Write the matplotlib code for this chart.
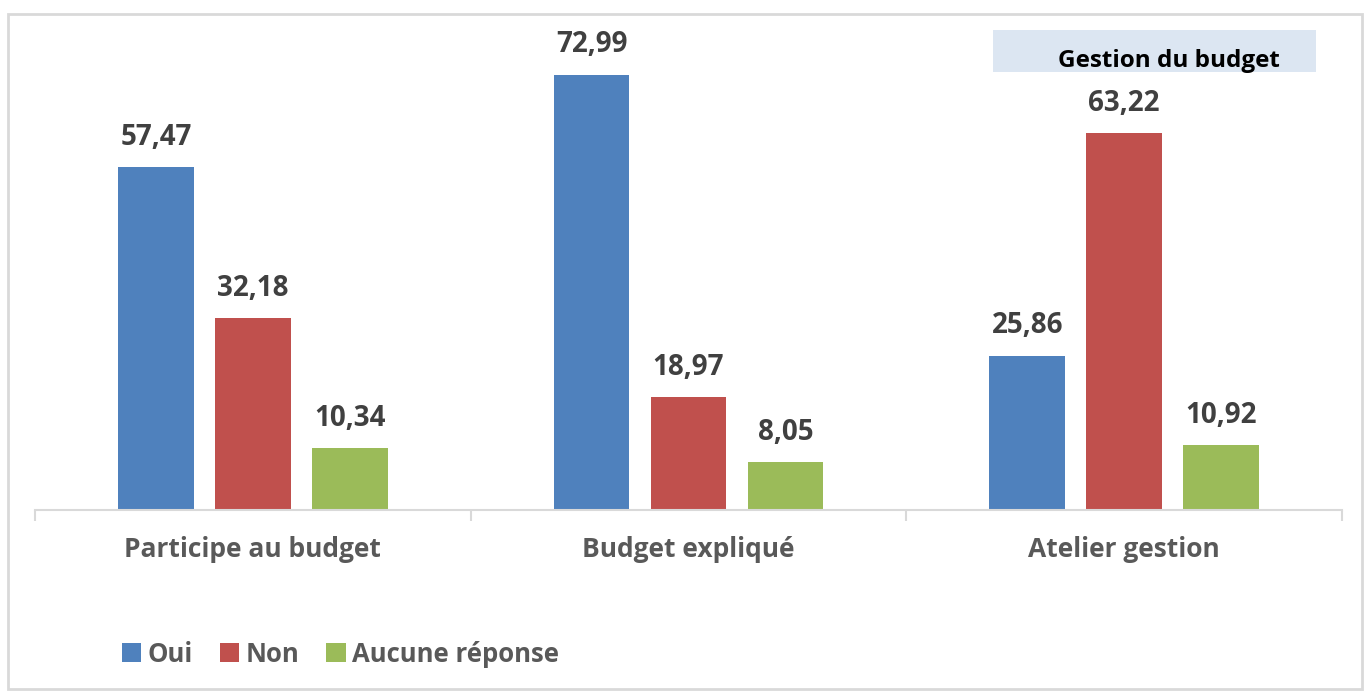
import numpy as np
import matplotlib.pyplot as plt
from matplotlib.patches import Rectangle

categories = ["Participe au budget", "Budget expliqué", "Atelier gestion"]
series = ["Oui", "Non", "Aucune réponse"]
oui = [57.47, 72.99, 25.86]
non = [32.18, 18.97, 63.22]
aucune = [10.34, 8.05, 10.92]
colors = ["#4F81BD", "#C0504D", "#9BBB59"]
title = "Gestion du budget"

plt.rcParams['font.family'] = ['Open Sans', 'DejaVu Sans']

W, H = 1369, 692
fig = plt.figure(figsize=(W / 100, H / 100), dpi=100)

# outer frame
fig.patches.append(Rectangle((8 / W, 1 - 689 / H), (1362 - 8) / W, (689 - 14) / H,
                             transform=fig.transFigure, fill=False,
                             edgecolor="#D9D9D9", linewidth=2))

ax = fig.add_axes([35 / W, 1 - 510 / H, (1342 - 35) / W, (510 - 33) / H])
x = np.arange(len(categories))
step = 0.2225
width = 0.174
for i, (name, vals) in enumerate(zip(series, [oui, non, aucune])):
    pos = x + (i - 1) * step
    bars = ax.bar(pos, vals, width, color=colors[i], label=name, zorder=2)
    for b, v in zip(bars, vals):
        ax.text(b.get_x() + b.get_width() / 2, v + 5.0, f"{v:.2f}".replace(".", ","),
                ha="center", va="center", fontsize=20, fontweight="bold", color="#404040")

ax.set_xlim(-0.5, 2.5)
ax.set_ylim(0, 80)
for s in ["top", "right", "left"]:
    ax.spines[s].set_visible(False)
ax.spines["bottom"].set_color("#D9D9D9")
ax.spines["bottom"].set_linewidth(1.5)
ax.set_yticks([])
ax.set_xticks([-0.5, 0.5, 1.5, 2.5])
ax.set_xticklabels([])
ax.tick_params(axis="x", length=8, width=1.5, color="#D9D9D9")
for xi, c in zip(x, categories):
    ax.text(xi, -6.7, c, ha="center", va="center", fontsize=19,
            fontweight="bold", color="#595959")

# title box
fig.patches.append(Rectangle((993 / W, 1 - 72 / H), (1316 - 993) / W, (72 - 30) / H,
                             transform=fig.transFigure, facecolor="#DCE6F2",
                             edgecolor="none", zorder=0))
fig.text(1169 / W, 1 - 61 / H, title, ha="center", va="center",
         fontsize=17.5, fontweight="bold", color="black")

handles, labels = ax.get_legend_handles_labels()
fig.legend(handles, labels, loc="center left", bbox_to_anchor=(99 / W, 1 - 654 / H),
           ncol=3, frameon=False, handlelength=0.75, handleheight=0.75,
           handletextpad=0.25, columnspacing=1.05,
           prop={"size": 18.5, "weight": "bold"}, labelcolor="#595959")

fig.savefig("out.png", dpi=100)
